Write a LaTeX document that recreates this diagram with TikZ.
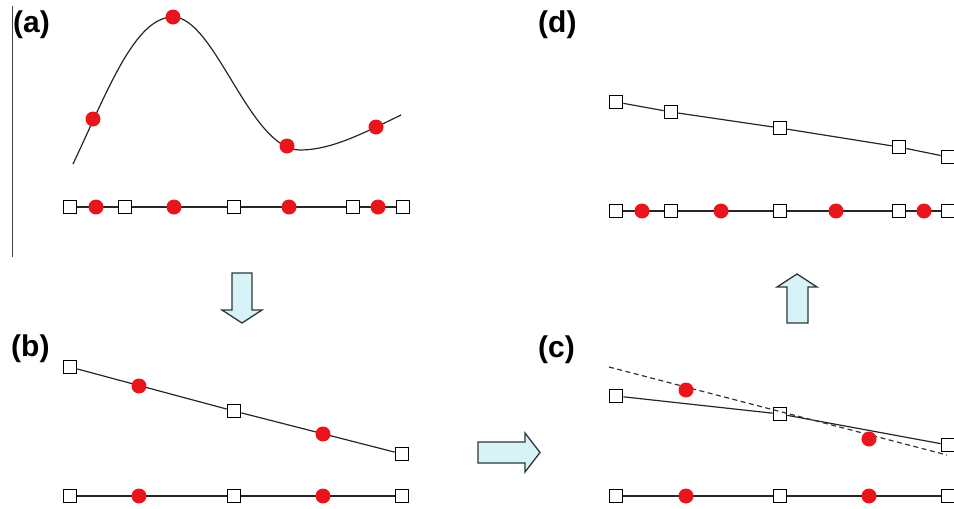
\documentclass[tikz,border=0pt]{standalone}
\usepackage{fontspec}
\setmainfont{Liberation Sans}
\definecolor{dotred}{RGB}{232,22,28}
\definecolor{arrowfill}{RGB}{215,243,248}
\definecolor{arrowline}{RGB}{45,55,55}
\begin{document}
\begin{tikzpicture}[x=1pt,y=-1pt,
  sq/.style={shape=rectangle,draw=black,fill=white,line width=1.6pt,minimum size=13pt,inner sep=0pt},
  dot/.style={shape=circle,fill=dotred,minimum size=15pt,inner sep=0pt},
  ln/.style={line width=1.2pt,draw=black!85},
  dln/.style={line width=1.2pt,draw=black!80,dash pattern=on 5pt off 3.5pt},
  lab/.style={font=\fontsize{30}{30}\selectfont\bfseries,anchor=west,inner sep=0pt},
  blk/.style={draw=arrowline,fill=arrowfill,line width=1.3pt,line join=miter}]
\useasboundingbox (0,0) rectangle (954,509);

% ---------- panel (a) ----------
\node[lab] (la) at (13,25) {(a)};
\coordinate (vtop) at (12,6);
\coordinate (vbot) at (12,257);
\draw[line width=1pt,draw=black!75] (vtop) -- (vbot);

\coordinate (cs) at (73,164);
\coordinate (cpk) at (173,17);
\coordinate (cmin) at (300,150);
\coordinate (ce) at (401,115);
\draw[ln] (cs) .. controls (108,90) and (135,17) .. (cpk)
          .. controls (215,17) and (250,150) .. (cmin)
          .. controls (330,150) and (360,135) .. (ce);
\node[dot] (ad1) at (93,119) {};
\node[dot] (ad2) at (173,17) {};
\node[dot] (ad3) at (287,146) {};
\node[dot] (ad4) at (376,127) {};

\node[sq] (as1) at (70,207) {};
\node[sq] (as2) at (125,207) {};
\node[sq] (as3) at (234,207) {};
\node[sq] (as4) at (353,207) {};
\node[sq] (as5) at (403,207) {};
\draw[ln] (as1) -- (as2) -- (as3) -- (as4) -- (as5);
\node[dot] (ab1) at (96,207) {};
\node[dot] (ab2) at (174,207) {};
\node[dot] (ab3) at (289,207) {};
\node[dot] (ab4) at (378,207) {};

% ---------- arrow a -> b ----------
\draw[blk] (232,273) -- (252,273) -- (252,310) -- (262,310) -- (242,323) -- (222,310) -- (232,310) -- cycle;

% ---------- panel (b) ----------
\node[lab] (lb) at (11,349) {(b)};
\node[sq] (bs1) at (70,367) {};
\node[sq] (bs2) at (234,411) {};
\node[sq] (bs3) at (402,454) {};
\draw[ln] (bs1) -- (bs2) -- (bs3);
\node[dot] (bd1) at (139,386) {};
\node[dot] (bd2) at (323,434) {};

\node[sq] (bb1) at (70,496) {};
\node[sq] (bb2) at (234,496) {};
\node[sq] (bb3) at (402,496) {};
\draw[ln] (bb1) -- (bb2) -- (bb3);
\node[dot] (bbd1) at (139,496) {};
\node[dot] (bbd2) at (323,496) {};

% ---------- arrow b -> c ----------
\draw[blk] (478,442) -- (525,442) -- (525,433) -- (540,452.5) -- (525,472) -- (525,463) -- (478,463) -- cycle;

% ---------- panel (c) ----------
\node[lab] (lc) at (538,350) {(c)};
\coordinate (ds) at (609,367);
\coordinate (de) at (947,455);
\node[sq] (cs1) at (616,396) {};
\node[sq] (cs2) at (780,414) {};
\node[sq] (cs3) at (948,445) {};
\draw[ln] (cs1) -- (cs2) -- (cs3);
\draw[dln] (ds) -- (de);
\node[dot] (cd1) at (686,390) {};
\node[dot] (cd2) at (869,439) {};

\node[sq] (cb1) at (616,496) {};
\node[sq] (cb2) at (780,496) {};
\node[sq] (cb3) at (948,496) {};
\draw[ln] (cb1) -- (cb2) -- (cb3);
\node[dot] (cbd1) at (686,496) {};
\node[dot] (cbd2) at (869,496) {};

% ---------- arrow c -> d ----------
\draw[blk] (787,323) -- (787,287) -- (777,287) -- (797,274) -- (817,287) -- (808,287) -- (808,323) -- cycle;

% ---------- panel (d) ----------
\node[lab] (ld) at (538,25) {(d)};
\node[sq] (ds1) at (616,102) {};
\node[sq] (ds2) at (671,112) {};
\node[sq] (ds3) at (780,128) {};
\node[sq] (ds4) at (899,147) {};
\node[sq] (ds5) at (948,157) {};
\draw[ln] (ds1) -- (ds2) -- (ds3) -- (ds4) -- (ds5);

\node[sq] (db1) at (616,211) {};
\node[sq] (db2) at (671,211) {};
\node[sq] (db3) at (780,211) {};
\node[sq] (db4) at (899,211) {};
\node[sq] (db5) at (948,211) {};
\draw[ln] (db1) -- (db2) -- (db3) -- (db4) -- (db5);
\node[dot] (dd1) at (642,211) {};
\node[dot] (dd2) at (721,211) {};
\node[dot] (dd3) at (836,211) {};
\node[dot] (dd4) at (924,211) {};
\end{tikzpicture}
\end{document}
